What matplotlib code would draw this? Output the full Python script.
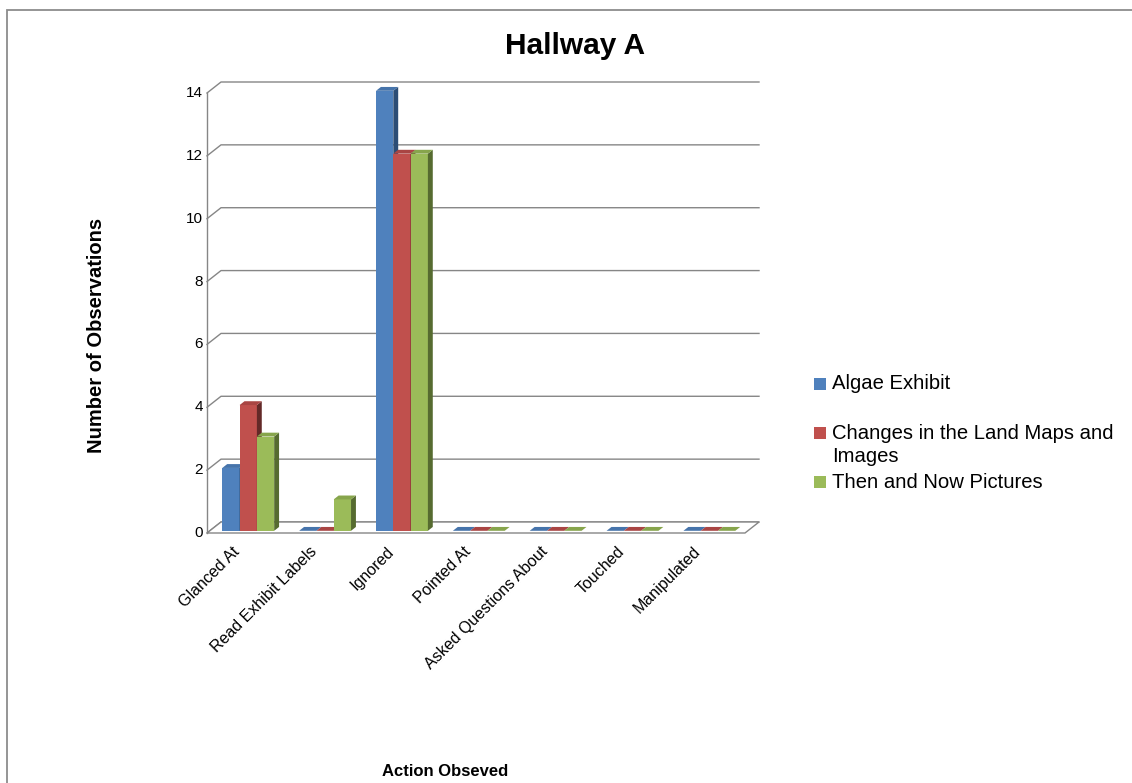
import matplotlib
matplotlib.use("Agg")
import matplotlib.pyplot as plt
import matplotlib.transforms as mtransforms
from matplotlib.patches import Polygon, Rectangle

plt.rcParams['font.family'] = ['Liberation Sans', 'DejaVu Sans']

categories = ["Glanced At", "Read Exhibit Labels", "Ignored", "Pointed At",
              "Asked Questions About", "Touched", "Manipulated"]
series = ["Algae Exhibit", "Changes in the Land Maps and\nImages", "Then and Now Pictures"]
algae = [2, 0, 14, 0, 0, 0, 0]
changes = [4, 0, 12, 0, 0, 0, 0]
then_now = [3, 1, 12, 0, 0, 0, 0]
yticks = [0, 2, 4, 6, 8, 10, 12, 14]

# front, top, side colours for each series
colours = [("#4f81bd", "#4674ab", "#2c4d75"),
           ("#c0504d", "#a94543", "#632928"),
           ("#9bbb59", "#87a54c", "#566b30")]
values = [algae, changes, then_now]
grid_c = "#868686"

W, H = 1132, 783
fig = plt.figure(figsize=(W / 100, H / 100), dpi=100)
axl, axb, axw, axh = 207 / W, (H - 533) / H, 538 / W, 440 / H
ax = fig.add_axes([axl, axb, axw, axh])
n = len(categories)
ax.set_xlim(-0.5, n - 0.5)
ax.set_ylim(0, 14)
ax.axis("off")

# pixel -> data units, for the depth of the 3d box
ux = n / (W * axw)
uy = 14 / (H * axh)
ddx, ddy = 14 * ux, 11 * uy
x0, x1 = -0.5, n - 0.5

# back wall gridlines with the short side-wall step
for t in yticks:
    ax.plot([x0, x0 + ddx, x1 + ddx], [t, t + ddy, t + ddy], color=grid_c,
            lw=1.0, clip_on=False, zorder=1)
# floor
ax.add_patch(Polygon([(x0, 0), (x1, 0), (x1 + ddx, ddy), (x0 + ddx, ddy)],
                     closed=True, facecolor="white", edgecolor=grid_c, lw=1.0,
                     clip_on=False, zorder=2))
ax.plot([x0, x0], [0, 14], color=grid_c, lw=1.0, clip_on=False, zorder=2)

bw = 0.225
fa, fb = 0.2, 0.55
for i in range(n):
    for s, vals in enumerate(values):
        v = vals[i]
        left = i + (s - 1.5) * bw
        right = left + bw
        ax_, ay_ = fa * ddx, fa * ddy
        bx_, by_ = fb * ddx, fb * ddy
        front, top, side = colours[s]
        if v > 0:
            ax.add_patch(Polygon([(left + ax_, ay_), (right + ax_, ay_),
                                  (right + ax_, v + ay_), (left + ax_, v + ay_)],
                                 closed=True, facecolor=front, edgecolor="none",
                                 clip_on=False, zorder=3))
            ax.add_patch(Polygon([(right + ax_, ay_), (right + bx_, by_),
                                  (right + bx_, v + by_), (right + ax_, v + ay_)],
                                 closed=True, facecolor=side, edgecolor="none",
                                 clip_on=False, zorder=3))
        ax.add_patch(Polygon([(left + ax_, v + ay_), (right + ax_, v + ay_),
                              (right + bx_, v + by_), (left + bx_, v + by_)],
                             closed=True, facecolor=top, edgecolor="none",
                             clip_on=False, zorder=3))

# tick labels
ytr = ax.transData + mtransforms.ScaledTranslation(-0.04, 0, fig.dpi_scale_trans)
for t in yticks:
    ax.text(x0, t, str(t), transform=ytr, ha="right", va="center", fontsize=11)
xtr = ax.transData + mtransforms.ScaledTranslation(-0.08, -0.16, fig.dpi_scale_trans)
for i, c in enumerate(categories):
    ax.text(i, 0, c, transform=xtr, rotation=45, rotation_mode="anchor",
            ha="right", va="center", fontsize=11.5)

fig.text(575 / W, 1 - 46 / H, "Hallway A", ha="center", va="center",
         fontsize=21.5, fontweight="bold")
fig.text(97 / W, 1 - 335 / H, "Number of Observations", rotation=90,
         ha="center", va="center", fontsize=14.5, fontweight="bold")
fig.text(445 / W, 1 - 771 / H, "Action Obseved", ha="center", va="center",
         fontsize=12, fontweight="bold")

# legend, laid out by hand
legend_rows = [384, 445, 482]
for (c, label, yrow) in zip(colours, series, legend_rows):
    fig.patches.append(Rectangle((814 / W, 1 - (yrow + 6) / H), 12 / W, 12 / H,
                                 transform=fig.transFigure, facecolor=c[0],
                                 edgecolor="none"))
    fig.text(832 / W, 1 - yrow / H, label, ha="left", va="center",
             fontsize=14.6, linespacing=1.25)
# the wrapped entry's square sits on its first line
fig.patches[1].set_y(1 - (433 + 6) / H)

# chart border
fig.patches.append(Rectangle((7 / W, -0.05), 1.1, 1 - 10 / H + 0.05,
                             transform=fig.transFigure, fill=False,
                             edgecolor="#8c8c8c", lw=1.3))

fig.savefig("out.png", dpi=100)
